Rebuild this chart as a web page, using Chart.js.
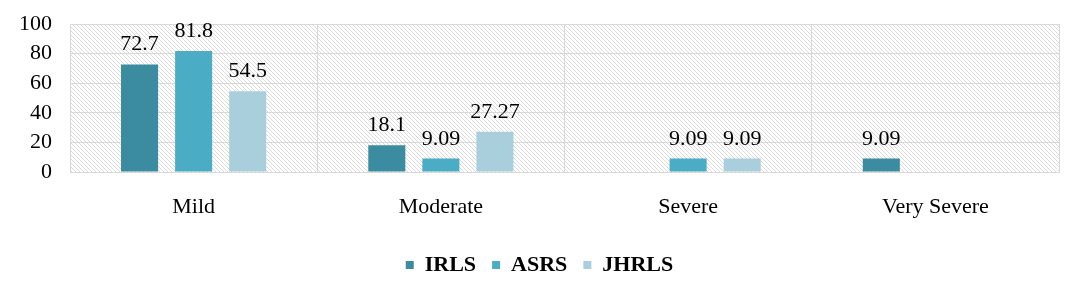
<!DOCTYPE html>
<html>
<head>
<meta charset="utf-8">
<script src="https://cdn.jsdelivr.net/npm/chart.js@4.4.1/dist/chart.umd.min.js"></script>
<style>
  html, body { margin: 0; padding: 0; background: #fff; }
  #wrap { width: 1079px; height: 298px; }
</style>
</head>
<body>
<div id="wrap"><canvas id="myChart"></canvas></div>
<script>
// data
const categories = ['Mild', 'Moderate', 'Severe', 'Very Severe'];
const irls = [72.7, 18.1, null, 9.09];
const asrs = [81.8, 9.09, 9.09, null];
const jhrls = [54.5, 27.27, 9.09, null];
const seriesNames = ['IRLS', 'ASRS', 'JHRLS'];
const seriesColors = ['#3B8BA1', '#4BACC6', '#A9CEDC'];

const FONT = "'Liberation Serif', 'Times New Roman', serif";
const gridColor = '#D9D9D9';

// diagonal hatch for the plot background
function makeHatch() {
  const c = document.createElement('canvas');
  c.width = 4; c.height = 4;
  const g = c.getContext('2d');
  g.fillStyle = '#fff';
  g.fillRect(0, 0, 4, 4);
  g.strokeStyle = '#DCDCDC';
  g.lineWidth = 1;
  g.beginPath();
  g.moveTo(-1, -1); g.lineTo(5, 5);
  g.moveTo(-1, 3); g.lineTo(1, 5);
  g.moveTo(3, -1); g.lineTo(5, 1);
  g.stroke();
  return g.createPattern(c, 'repeat');
}

const hatchBg = {
  id: 'hatchBg',
  beforeDraw(chart) {
    const { ctx, chartArea: a } = chart;
    ctx.save();
    ctx.fillStyle = makeHatch();
    ctx.fillRect(a.left, a.top, a.right - a.left, a.bottom - a.top);
    ctx.restore();
  }
};

// value labels above the bars
const barLabels = {
  id: 'barLabels',
  afterDatasetsDraw(chart) {
    const ctx = chart.ctx;
    ctx.save();
    ctx.font = '22px ' + FONT;
    ctx.fillStyle = '#000';
    ctx.textAlign = 'center';
    ctx.textBaseline = 'alphabetic';
    chart.data.datasets.forEach((ds, i) => {
      chart.getDatasetMeta(i).data.forEach((bar, j) => {
        const v = ds.data[j];
        if (v === null) return;
        ctx.fillText(String(v), bar.x, bar.y - 14);
      });
    });
    ctx.restore();
  }
};

const ctx = document.getElementById('myChart').getContext('2d');
new Chart(ctx, {
  type: 'bar',
  data: {
    labels: categories,
    datasets: [irls, asrs, jhrls].map((d, i) => ({
      label: seriesNames[i],
      data: d,
      backgroundColor: seriesColors[i],
      categoryPercentage: 0.656,
      barPercentage: 0.685
    }))
  },
  options: {
    responsive: true,
    maintainAspectRatio: false,
    animation: false,
    layout: { padding: { top: 24, right: 20, left: 20, bottom: 12 } },
    scales: {
      x: {
        grid: { color: gridColor, drawTicks: false },
        border: { color: gridColor },
        ticks: { color: '#000', font: { family: FONT, size: 22 }, padding: 22 },
        afterFit(scale) { scale.height = 66; }
      },
      y: {
        min: 0, max: 100,
        grid: { color: gridColor, drawTicks: false },
        border: { color: gridColor },
        ticks: { stepSize: 20, autoSkip: false, color: '#000', font: { family: FONT, size: 22 }, padding: 18 },
        afterFit(scale) {
          scale.width = 50;
          scale.paddingTop = 0;
          scale.paddingBottom = 0;
        }
      }
    },
    plugins: {
      legend: {
        position: 'bottom',
        labels: {
          color: '#000',
          font: { family: FONT, size: 22, weight: 'bold' },
          boxWidth: 8, boxHeight: 8,
          padding: 16
        }
      },
      tooltip: { enabled: false }
    }
  },
  plugins: [hatchBg, barLabels]
});
</script>
</body>
</html>
